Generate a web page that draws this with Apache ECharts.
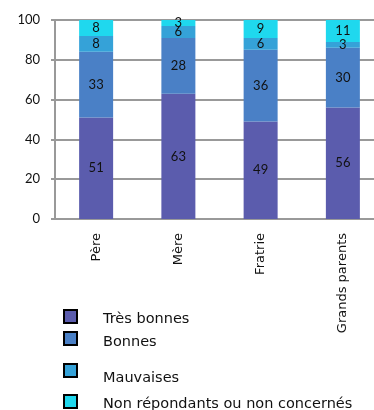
<!DOCTYPE html>
<html><head><meta charset="utf-8">
<script src="https://cdn.jsdelivr.net/npm/echarts@6/dist/echarts.min.js"></script>
<style>html,body{margin:0;padding:0;background:#fff;overflow:hidden}#c{width:384px;height:410px}</style>
</head><body><div id="c"></div>
<script>
var categories = ['Père', 'Mère', 'Fratrie', 'Grands parents'];
var tresBonnes = [51, 63, 49, 56];
var bonnes = [33, 28, 36, 30];
var mauvaises = [8, 6, 6, 3];
var nonRep = [8, 3, 9, 11];
var seriesNames = ['Très bonnes', 'Bonnes', 'Mauvaises', 'Non répondants ou non concernés'];
var colors = ['#5b5cad', '#4a80c6', '#35a2d8', '#1fd8ee'];
var yTicks = [0, 20, 40, 60, 80, 100];

var numFont = 'Lato, sans-serif';
var txtFont = '"DejaVu Sans", sans-serif';
var chart = echarts.init(document.getElementById('c'));
var dataSets = [tresBonnes, bonnes, mauvaises, nonRep];
var series = dataSets.map(function (d, i) {
  return {
    name: seriesNames[i], type: 'bar', stack: 'a', data: d, barWidth: 34,
    itemStyle: { color: colors[i] },
    label: { show: true, position: 'inside', color: '#111', fontSize: 13, fontFamily: numFont }
  };
});
var iconTops = [309, 331, 363, 394];
var textTops = [312, 335, 371, 397];
var legends = [];
seriesNames.forEach(function (n, i) {
  legends.push({
    data: [n], left: 63, top: iconTops[i], orient: 'vertical', padding: 0,
    itemWidth: 13, itemHeight: 13, itemGap: 0, icon: 'rect',
    itemStyle: { borderColor: '#000', borderWidth: 2 },
    formatter: function () { return ''; },
    selectedMode: false
  });
  legends.push({
    data: [n], left: 98, top: textTops[i], orient: 'vertical', padding: 0,
    itemWidth: 0, itemHeight: 14, itemGap: 0, icon: 'none',
    textStyle: { fontSize: 14.5, fontFamily: txtFont, color: '#111' },
    selectedMode: false
  });
});
chart.setOption({
  animation: false,
  color: colors,
  legend: legends,
  grid: { left: 55, right: 0, top: 20, bottom: 191 },
  xAxis: {
    type: 'category', data: categories,
    axisLine: { show: true, lineStyle: { color: '#999', width: 2 } },
    axisTick: { show: false },
    axisLabel: { rotate: 90, fontSize: 13, fontFamily: txtFont, color: '#111', margin: 14 }
  },
  yAxis: {
    type: 'value', min: 0, max: 100, interval: 20,
    axisLine: { show: true, lineStyle: { color: '#999', width: 2 } },
    axisTick: { show: true, length: 4, lineStyle: { color: '#999', width: 2 } },
    splitLine: { lineStyle: { color: '#999', width: 2 } },
    axisLabel: { fontSize: 13, fontFamily: numFont, color: '#111', margin: 15,
      formatter: function (v) { return yTicks.indexOf(v) >= 0 ? String(v) : ''; } }
  },
  series: series
});
</script></body></html>
